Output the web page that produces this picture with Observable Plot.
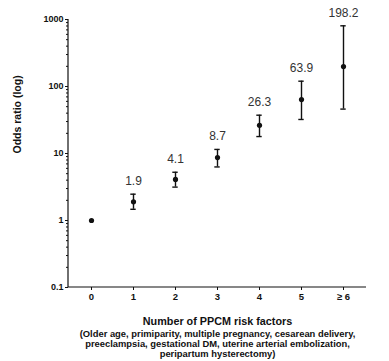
<!DOCTYPE html>
<html>
<head>
<meta charset="utf-8">
<script src="https://cdn.jsdelivr.net/npm/d3@7"></script>
<script src="https://cdn.jsdelivr.net/npm/@observablehq/plot@0.6"></script>
<style>
  html, body { margin: 0; padding: 0; background: #fff; }
  #chart svg { display: block; }
</style>
</head>
<body>
<div id="chart"></div>
<script>
const categories = ["0", "1", "2", "3", "4", "5", "≥ 6"];
const oddsRatio = [1, 1.9, 4.1, 8.7, 26.3, 63.9, 198.2];
const ciLow = [null, 1.47, 3.15, 6.3, 17.9, 32.2, 46];
const ciHigh = [null, 2.47, 5.25, 11.5, 37.3, 120, 805];
const valueLabels = ["", "1.9", "4.1", "8.7", "26.3", "63.9", "198.2"];
const yTicks = [0.1, 1, 10, 100, 1000];
const minorTicks = [0.2, 0.3, 0.4, 0.5, 0.6, 0.7, 0.8, 0.9,
  2, 3, 4, 5, 6, 7, 8, 9, 20, 30, 40, 50, 60, 70, 80, 90,
  200, 300, 400, 500, 600, 700, 800, 900];
const xTitle = "Number of PPCM risk factors";
const yTitle = "Odds ratio (log)";
const captionLines = [
  "(Older age, primiparity, multiple pregnancy, cesarean delivery,",
  "preeclampsia, gestational DM, uterine arterial embolization,",
  "peripartum hysterectomy)"
];

const rows = categories.map((c, i) => ({
  cat: c, or: oddsRatio[i], lo: ciLow[i], hi: ciHigh[i], label: valueLabels[i]
}));
const ciRows = rows.filter(d => d.lo != null);

const font = "'Liberation Sans', Arial, sans-serif";

// axis lines drawn along the frame's left and bottom edges
function axisLines(index, scales, values, dim) {
  const x0 = dim.marginLeft, x1 = dim.width - dim.marginRight;
  const y0 = dim.marginTop, y1 = dim.height - dim.marginBottom;
  const g = d3.create("svg:g").attr("stroke", "#111").attr("stroke-width", 1.2).attr("fill", "none");
  g.append("path").attr("d", `M${x0},${y0}V${y1}H${x1}`);
  return g.node();
}

const chart = Plot.plot({
  width: 389,
  height: 361,
  marginLeft: 68,
  marginRight: 23,
  marginTop: 19,
  marginBottom: 74,
  style: { fontFamily: font, background: "#fff", color: "#111" },
  x: { type: "band", domain: categories, padding: 0, label: null },
  y: { type: "log", domain: [0.1, 1000], label: null },
  marks: [
    Plot.axisY({ ticks: minorTicks, tickSize: 2, tickFormat: null, text: null, stroke: "#111" }),
    Plot.axisY({ ticks: yTicks, tickSize: 3, tickPadding: 2, tickFormat: d => String(d),
      fontSize: 9, fontWeight: "bold", fill: "#111", stroke: "#111", label: null }),
    Plot.axisX({ tickSize: 3, tickPadding: 2.5, fontSize: 9.5, fontWeight: "bold",
      fill: "#111", stroke: "#111", label: null }),
    axisLines,
    Plot.ruleX(ciRows, { x: "cat", y1: "lo", y2: "hi", stroke: "#111", strokeWidth: 1.4 }),
    Plot.tickY(ciRows, { x: "cat", y: "hi", stroke: "#111", strokeWidth: 1.4,
      insetLeft: 18.3, insetRight: 18.3 }),
    Plot.tickY(ciRows, { x: "cat", y: "lo", stroke: "#111", strokeWidth: 1.4,
      insetLeft: 18.3, insetRight: 18.3 }),
    Plot.dot(rows, { x: "cat", y: "or", r: 2.6, fill: "#111", stroke: null }),
    Plot.text(ciRows, { x: "cat", y: "hi", text: "label", dy: -13, fontSize: 12,
      fill: "#333", lineAnchor: "middle" }),
    Plot.text([yTitle], { frameAnchor: "left", dx: -51, rotate: -90, fontSize: 10.5,
      fontWeight: "bold", fill: "#111", lineAnchor: "middle" }),
    Plot.text([xTitle], { frameAnchor: "bottom", dy: 34, fontSize: 10.8,
      fontWeight: "bold", fill: "#111", lineAnchor: "middle" }),
    ...captionLines.map((line, i) => Plot.text([line], { frameAnchor: "bottom", dy: 46 + 10 * i,
      fontSize: 9.4, fontWeight: "bold", fill: "#111", lineAnchor: "middle" }))
  ]
});
document.getElementById("chart").appendChild(chart);
</script>
</body>
</html>
